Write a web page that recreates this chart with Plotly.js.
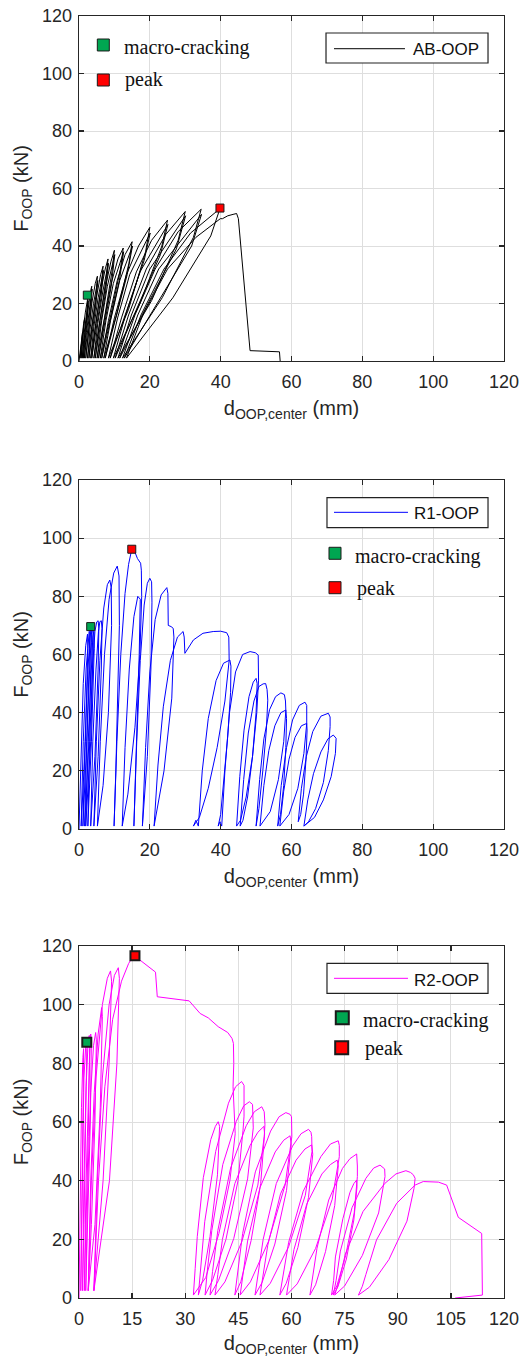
<!DOCTYPE html>
<html><head><meta charset="utf-8">
<script src="https://cdn.plot.ly/plotly-3.0.1.min.js"></script>
<style>html,body{margin:0;padding:0;background:#fff;width:521px;height:1357px;overflow:hidden}
.p{position:absolute;left:0;width:521px}</style>
</head><body>
<div id="p1" class="p" style="top:0;height:460px"></div>
<div id="p2" class="p" style="top:460px;height:470px"></div>
<div id="p3" class="p" style="top:930px;height:427px"></div>
<script>
// ---------------- DATA ----------------
const seriesNames = ['AB-OOP', 'R1-OOP', 'R2-OOP'];
const markerNames = ['macro-cracking', 'peak'];
const yTicks = [0, 20, 40, 60, 80, 100, 120];
const xTicksA = [0, 20, 40, 60, 80, 100, 120];
const xTicksB = [0, 15, 30, 45, 60, 75, 90, 105, 120];

// AB-OOP force-displacement path [d (mm), F (kN)]
const abPath = [
[0,0],[0.4,5],[0.8,9],[1.0,10],[0.7,6],[0.3,1],
[0.8,8],[1.3,13],[1.6,15],[1.4,11],[0.9,5],[0.6,1],
[1.1,10],[1.8,17],[2.4,21.5],[2.5,22],[2.2,16],[1.5,7],[0.9,1],
[1.5,10],[2.1,16.5],[2.6,21],[2.3,14],[1.2,1],
[1.8,11],[2.6,19],[3.3,24.5],[3.6,26],[3.2,19],[2.3,9],[1.5,1],
[2.1,10],[2.9,18],[3.7,25],[3.3,17],[1.9,1],
[2.6,11],[3.6,20],[4.6,27],[5.2,29.5],[4.8,23],[3.6,12],[2.4,1],
[3.1,11],[4.1,20],[5.3,28],[4.8,20],[2.8,1],
[3.7,12],[4.9,22],[6.1,30],[6.8,33],[6.3,26],[4.8,13],[3.3,1],
[4.2,12],[5.4,22],[6.9,31.5],[6.2,22],[3.6,1],
[4.7,13],[6.1,24],[7.4,32],[8.2,35.5],[7.6,28],[5.9,14],[4.2,1],
[5.3,13],[6.7,24],[8.3,34],[7.5,24],[4.6,1],
[5.9,14],[7.5,26],[9.0,34.5],[10.0,38.5],[9.3,31],[7.2,15],[5.1,1],
[6.4,14],[8.0,26],[10.1,37],[9.1,26],[5.5,1],
[7.1,14],[9.1,27],[11.0,35.5],[12.5,39.3],[11.7,32],[8.8,15],[6.0,1],
[7.6,14],[9.7,27],[12.6,38],[11.4,28],[6.4,1],
[8.3,14],[10.8,28],[13.0,37],[15.0,41.5],[14.1,34],[10.6,16],[7.0,1],
[8.9,14],[11.5,28],[15.1,40],[13.6,30],[7.4,1],
[10.0,15],[13.4,30],[16.8,40],[20.0,46.5],[18.8,38],[14.0,18],[8.3,1],
[10.9,15],[14.3,30],[20.1,44.5],[18.4,35],[8.8,1],
[12.0,15],[16.2,31],[20.5,42],[25.0,49],[23.4,40],[17.2,20],[9.7,1],
[12.9,15],[17.2,31],[25.1,47.5],[23.0,37],[10.2,1],
[14.0,16],[19.0,32],[24.5,44],[30.0,52],[28.0,42],[20.5,21],[11.0,1],
[14.8,16],[20.0,32],[30.1,50.5],[27.5,39],[11.5,1],
[15.8,16],[21.5,32],[28.0,45],[34.5,52.8],[32.3,43],[23.5,22],[12.3,1],
[16.6,16],[22.5,32],[34.6,51],[31.8,40],[12.8,1],
[17.5,16],[24.0,32],[31.5,44.5],[39.8,53],[37.2,43.5],[26.5,22],[13.4,1],
[18.0,16],[25.0,32],[33.0,43],[39.9,49.5],[40.5,49.5],[42.0,50.5],[43.5,51],[44.5,51.3],[45.0,49.5],
[48.3,3.6],[56.6,3.2],[56.8,0]
];

// R1-OOP path
const r1Path = [
[0,0],[0.5,25],[1.2,50],[1.9,63],[2.4,67],[2.5,62],[1.8,30],[0.6,1],
[1.2,30],[2.0,55],[2.6,66],[2.9,68],[3.0,62],[2.2,30],[1.1,1],
[1.7,30],[2.5,55],[3.1,67],[3.4,69.6],[3.5,64],[2.8,30],[1.6,1],
[2.2,30],[3.0,55],[3.5,67],[3.9,69.8],[4.0,64],[3.3,30],[1.9,1],
[2.6,30],[3.4,55],[3.9,66],[4.2,68],[4.3,62],[3.5,30],[2.5,1],
[3.0,30],[3.8,55],[4.5,68],[5.0,71.2],[5.4,71.6],[5.6,69],[5.4,55],[4.5,25],[3.3,1],
[3.9,30],[4.8,55],[5.5,68],[5.9,71.3],[6.3,71.6],[6.5,69],[6.3,55],[5.4,25],[4.2,1],
[4.9,30],[5.9,58],[7.0,76],[8.0,84],[8.7,85.6],[9.1,83],[9.2,70],[8.3,40],[6.8,15],[5.2,1],
[6.0,30],[7.2,60],[8.5,79],[9.8,88],[10.8,90.4],[11.3,87],[11.4,70],[11.0,45],[10.4,20],[9.9,1],
[10.7,30],[11.8,60],[13.0,81],[14.0,91],[14.9,96.2],[15.6,95.8],[16.5,93],[17.4,91.4],[17.6,89],[17.7,80],[17.2,60],[15.8,35],[13.8,12],[12.2,1],
[13.0,28],[14.2,55],[15.5,73],[16.6,80],[17.3,79],[17.0,60],[16.3,30],[15.5,1],
[16.3,30],[17.3,58],[18.4,77],[19.3,84.5],[20.0,86.2],[20.5,85],[20.6,78],[20.3,55],[19.3,25],[17.9,1],
[18.8,28],[20.0,54],[21.5,72],[23.2,80.5],[24.8,83],[25.1,81],[25.2,70],[26.0,69.6],[26.6,69],[26.8,66],[26.2,45],[24.0,20],[21.2,1],
[22.3,22],[23.8,42],[25.8,58],[27.8,66],[29.4,67.9],[29.7,66],[29.9,60.4],[32.3,65],[35.0,67.3],[37.9,67.9],[40.0,68],[41.7,67.5],[42.3,66],[42.4,58],[41.2,44],[39.0,28],[36.5,14],[34.0,4],[32.3,1],
[33.0,3],[33.7,1],
[34.8,20],[36.5,38],[38.7,51],[40.8,57],[42.6,58.1],[42.9,56],[42.8,47],[42.0,32],[41.0,17],[40.0,5],[39.3,1],
[39.8,2.5],[40.3,1],
[41.2,20],[42.5,40],[44.2,54],[46.2,60],[48.3,61],[49.8,60.6],[50.6,59.8],[50.7,51.2],[50.2,40],[49.0,25],[47.2,11],[45.6,3],[44.5,1],
[45.4,18],[46.6,34],[48.0,45.5],[49.2,50.5],[50.0,51.8],[50.3,50],[50.0,40],[49.0,25],[47.6,11],[46.3,3],[45.5,1],
[46.5,17],[47.8,33],[49.4,44],[50.8,49],[52.0,49.9],[52.7,50],[53.1,48],[53.3,44.3],[52.9,34],[51.9,20],[50.8,7],[50.0,1],
[51.0,17],[52.2,31],[53.8,41],[55.5,45.5],[57.0,46.8],[58.0,46.2],[58.3,44],[58.4,40.9],[57.8,30],[56.3,17],[54.0,6],[51.1,1],
[52.2,15],[53.6,27],[55.3,35.5],[57.0,40],[58.4,40.9],[58.6,38],[58.4,28],[57.8,15],[56.9,5],[56.1,1],
[57.1,15],[58.6,28],[60.3,37.5],[62.2,42.5],[63.8,43.6],[64.3,42.5],[64.3,36.3],[63.5,26],[61.8,14],[59.3,5],[56.7,1],
[57.8,13],[59.3,24],[61.0,31.5],[62.8,35.5],[64.3,36.3],[64.4,34],[64.1,24],[63.4,12],[62.6,5],[61.9,2.5],
[62.8,14],[64.2,25],[66.0,33.5],[68.3,38.8],[70.4,39.8],[70.9,38.5],[70.9,35.2],[70.4,27],[69.0,16],[66.8,7],[64.8,2.5],[63.5,1],
[64.6,10],[66.2,19],[68.3,26.5],[70.3,31],[71.8,32.3],[72.6,31.2],[72.4,26],[71.2,18],[69.0,10],[66.5,4],[64.5,2],[63.5,1]
];

// R2-OOP path
const r2Path = [
[0,0],[0.3,30],[0.7,65],[1.1,82],[1.3,85],[1.2,70],[0.8,35],[0.5,2.5],
[0.8,40],[1.4,75],[1.9,86],[2.1,87.2],[2.2,85],[1.9,60],[1.4,25],[1.0,2.5],
[1.4,40],[2.0,72],[2.6,88],[2.9,89.5],[3.0,85],[2.6,55],[2.0,25],[1.5,2.5],
[2.0,40],[2.6,70],[3.1,86],[3.3,90],[3.5,88],[3.2,60],[2.5,25],[1.9,2.5],
[2.5,40],[3.3,70],[4.1,86],[4.7,90.5],[4.9,88],[4.5,60],[3.5,25],[2.6,2.5],
[3.3,40],[4.3,70],[5.4,90],[6.4,99],[6.6,96],[6.0,65],[4.5,25],[2.6,2.5],
[3.5,40],[4.8,75],[6.6,100],[8.0,109],[8.9,111.5],[9.2,108],[8.5,80],[6.8,40],[4.2,2.5],
[5.2,40],[6.6,75],[8.5,100],[10.0,110],[11.1,112.6],[11.4,109],[10.7,80],[8.6,40],[4.2,2.5],
[5.5,40],[7.3,72],[9.5,95],[12.0,108],[14.0,114],[15.3,116.6],[15.8,116.8],[16.9,115.5],[21.6,111.1],[22.1,102.7],[31.1,101.3],[34.2,97],[36.5,95.5],[39.3,92.5],[42.0,90.5],[43.2,88.5],[43.6,86.8],[43.7,80],[43.5,72],[44.0,62],[44.1,56],
[42.6,40],[39.5,22],[35.8,7],[32.3,1],
[32.8,10],[33.4,21],[35.1,41],[37.2,54],[38.5,58.5],[39.3,60.1],[39.7,58.5],[39.1,42],[37.0,21],[34.9,6],[33.7,1],
[34.3,10],[35.5,26],[38.6,50],[42.2,66.4],[44.2,72],[45.9,73.8],[46.6,72.5],[46.6,62],[46.3,57],[44.9,40],[41.5,20],[37.7,6],[35.6,1],
[36.2,9],[37.5,23],[40.6,45.5],[44.4,60.2],[46.5,65.5],[48.1,66.9],[49.0,66],[49.2,58],[47.6,40.6],[43.7,20.3],[39.4,6],[37.0,1],
[37.7,9],[39.2,23],[42.8,44.3],[47.2,58.7],[49.5,63.5],[51.6,65.2],[52.3,63.5],[52.5,59.2],[52.3,55],[50.5,38.5],[46.0,19.3],[41.2,5.5],[38.4,1],
[39.2,8],[40.5,20],[44.0,39],[48.3,52],[50.5,56.5],[52.2,58.5],[52.4,56],[51.3,39],[48.6,19.6],[45.7,5.6],[44.0,1],
[44.8,9],[46.2,22],[49.8,43],[54.1,56.9],[56.5,61.8],[58.4,63.2],[59.6,62.6],[60.0,61.8],[60.1,55],[58.2,38.5],[53.5,19.3],[48.4,5.5],[45.5,1],
[46.3,8],[47.6,19.4],[51.1,37.6],[55.4,49.8],[57.8,53.8],[59.6,55.3],[59.9,52.5],[58.6,36.7],[55.3,18.4],[51.7,5.3],[49.7,1],
[50.6,8],[52.0,20],[55.7,39],[60.3,51.8],[62.7,56],[64.8,57.5],[65.5,56.5],[65.7,55],[65.8,50],[63.9,35],[59.2,17.5],[54.0,5],[51.1,1],
[51.9,7],[53.3,18],[56.9,35.5],[61.3,47],[63.8,50.8],[65.7,52.2],[66.0,49],[64.8,34.3],[61.8,17.2],[58.5,5],[56.7,1],
[57.6,8],[59.2,19],[63.3,36.4],[68.3,48.2],[71.0,52.5],[73.2,53.6],[73.5,52],[73.5,48.2],[71.5,33.7],[66.8,16.9],[61.6,4.8],[58.6,1],
[59.4,7],[60.7,16.5],[64.3,32],[68.6,42.3],[71.0,45.5],[72.9,47],[73.2,45],[72.2,31.5],[69.6,15.8],[66.8,4.5],[65.2,1],
[66.0,7],[67.2,17],[70.5,33.4],[74.4,44.2],[76.5,47.5],[78.4,49.1],[78.6,45],[78.6,41.4],[77.7,29],[75.3,14.5],[72.8,4.1],[71.3,1],
[71.9,6],[72.4,14],[74.5,27],[76.5,36],[77.6,39],[78.4,40.2],[78.5,38],[77.6,26.6],[75.5,13.3],[73.1,3.8],[71.8,1],
[72.6,6],[73.8,16],[77.1,30.8],[81.0,40.8],[83.2,44.3],[85.0,45.3],[86.3,44],[86.4,41.4],[84.6,29],[80.0,14.5],[75.0,4.1],[72.2,1],
[73.5,6],[75.2,15],[80.2,29.5],[86.3,39],[89.5,42.3],[92.3,43.4],[93.6,42.8],[94.4,42],[94.9,40.8],[94.6,37.4],[92.6,26.2],[87.5,13.1],[82.0,3.7],[78.9,1],
[80.0,4],[81.0,8],[84.0,19.8],[89.7,32.3],[94.9,38.5],[97.2,39.7],[99.0,39.7],[101.5,39.5],[103.8,38.5],[107.1,27.5],[113.7,22],[113.9,1],[106.2,0]
];

// Marked points [d, F]
const abCrack = [2.35, 22.9], abPeak = [39.8, 53.2];
const r1Crack = [3.3, 69.6],  r1Peak = [14.9, 96.2];
const r2Crack = [2.2, 87.2],  r2Peak = [15.8, 116.7];

// ---------------- DRAWING ----------------
const GREEN = '#00a651', RED = '#ff0000', AX = '#262626';
const SANS = 'Liberation Sans, Arial, sans-serif';
const SERIF = 'Liberation Serif, Times New Roman, serif';

function axis(ticks, title, standoff) {
  return {
    range: [0, 120], tickvals: ticks, ticktext: ticks.map(String),
    showgrid: true, gridcolor: '#dedede', gridwidth: 1, zeroline: false,
    showline: true, linecolor: AX, linewidth: 1.3, mirror: 'ticks',
    ticks: 'inside', ticklen: 5, tickwidth: 1.3, tickcolor: AX,
    tickfont: {family: SANS, size: 18, color: AX},
    title: {text: title, font: {family: SANS, size: 20, color: AX}, standoff: standoff},
    fixedrange: true
  };
}

function panel(id, o) {
  const traces = [
    {x: o.path.map(p => p[0]), y: o.path.map(p => p[1]), mode: 'lines',
     line: {color: o.color, width: 1}, hoverinfo: 'skip'},
    {x: [o.crack[0]], y: [o.crack[1]], mode: 'markers',
     marker: {symbol: 'square', size: o.ms, color: GREEN, line: {color: '#1a1a1a', width: o.mlw}}},
    {x: [o.peak[0]], y: [o.peak[1]], mode: 'markers',
     marker: {symbol: 'square', size: o.ms, color: RED, line: {color: '#1a1a1a', width: o.mlw}}}
  ];
  const L = o.leg;
  const shapes = [
    {type: 'rect', xref: 'paper', yref: 'paper', x0: L.box[0], x1: L.box[1], y0: L.box[2], y1: L.box[3],
     line: {color: '#222', width: 1.2}, fillcolor: 'white', layer: 'above'},
    {type: 'line', xref: 'paper', yref: 'paper', x0: L.ln[0], x1: L.ln[1], y0: L.ln[2], y1: L.ln[2],
     line: {color: o.color, width: 1}, layer: 'above'},
    {type: 'rect', xref: 'paper', yref: 'paper', x0: L.g[0], x1: L.g[1], y0: L.g[2], y1: L.g[3],
     line: {color: '#1a1a1a', width: L.sw}, fillcolor: GREEN, layer: 'above'},
    {type: 'rect', xref: 'paper', yref: 'paper', x0: L.r[0], x1: L.r[1], y0: L.r[2], y1: L.r[3],
     line: {color: '#1a1a1a', width: L.sw}, fillcolor: RED, layer: 'above'}
  ];
  const annotations = [
    {xref: 'paper', yref: 'paper', x: L.nt[0], y: L.nt[1], xanchor: 'left', yanchor: 'middle',
     text: o.name, showarrow: false, font: {family: SANS, size: 17, color: '#111'}},
    {xref: 'paper', yref: 'paper', x: L.mt[0], y: L.mt[1], xanchor: 'left', yanchor: 'middle',
     text: markerNames[0], showarrow: false, font: {family: SERIF, size: 20, color: '#111'}},
    {xref: 'paper', yref: 'paper', x: L.pt[0], y: L.pt[1], xanchor: 'left', yanchor: 'middle',
     text: markerNames[1], showarrow: false, font: {family: SERIF, size: 20, color: '#111'}}
  ];
  const layout = {
    width: 521, height: o.h, margin: {l: 79, r: 17, t: o.t, b: o.b},
    paper_bgcolor: 'white', plot_bgcolor: 'white', showlegend: false,
    xaxis: Object.assign(axis(o.xt, 'd<sub>OOP,center</sub> (mm)', 10), {ticklabelstandoff: 4}),
    yaxis: Object.assign(axis(yTicks, 'F<sub>OOP</sub> (kN)', 8), {ticklabelstandoff: 2}),
    shapes: shapes, annotations: annotations
  };
  Plotly.newPlot(id, traces, layout, {staticPlot: true, displayModeBar: false});
}

panel('p1', {
  name: seriesNames[0], path: abPath, color: '#000000', crack: abCrack, peak: abPeak,
  h: 460, t: 16, b: 99, xt: xTicksA, ms: 8, mlw: 1,
  leg: {box: [0.5812, 0.9624, 0.8638, 0.9507], ln: [0.600, 0.767, 0.9052], nt: [0.781, 0.9043],
        g: [0.0431, 0.0713, 0.8986, 0.9333], r: [0.0431, 0.0713, 0.7971, 0.8319], sw: 1,
        mt: [0.1000, 0.9093], pt: [0.1040, 0.8145]}
});
panel('p2', {
  name: seriesNames[1], path: r1Path, color: '#0000ff', crack: r1Crack, peak: r1Peak,
  h: 470, t: 20, b: 101, xt: xTicksA, ms: 8, mlw: 1,
  leg: {box: [0.5835, 0.9624, 0.8633, 0.9493], ln: [0.600, 0.7741, 0.9074], nt: [0.783, 0.9026],
        g: [0.5882, 0.6165, 0.7728, 0.8072], r: [0.5882, 0.6165, 0.6742, 0.7086], sw: 1,
        mt: [0.6440, 0.7814], pt: [0.6490, 0.6877]}
});
panel('p3', {
  name: seriesNames[2], path: r2Path, color: '#ff00ff', crack: r2Crack, peak: r2Peak,
  h: 427, t: 16, b: 59, xt: xTicksB, ms: 9, mlw: 2,
  leg: {box: [0.5835, 0.9624, 0.8656, 0.9509], ln: [0.600, 0.7741, 0.9082], nt: [0.783, 0.9034],
        g: [0.6042, 0.6348, 0.7778, 0.8148], r: [0.6028, 0.6334, 0.6926, 0.7295], sw: 2,
        mt: [0.6630, 0.7878], pt: [0.6680, 0.7102]}
});
</script>
</body></html>
